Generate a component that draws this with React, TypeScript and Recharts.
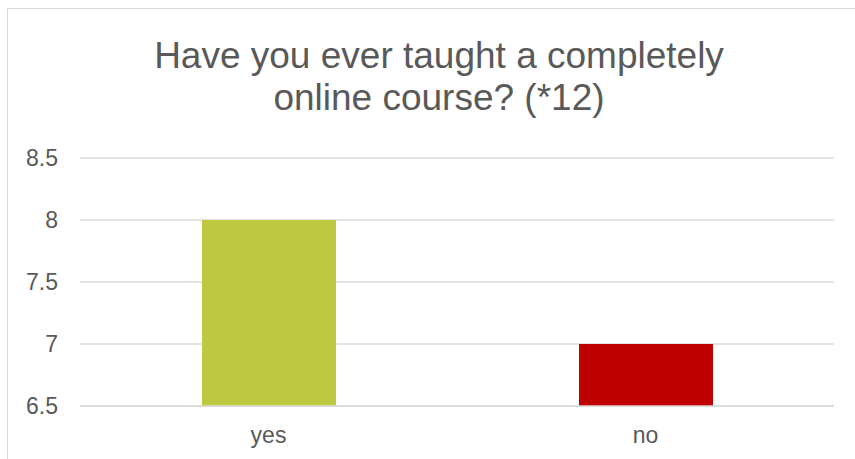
import React from "react";
import { BarChart, Bar, XAxis, YAxis, CartesianGrid, Cell } from "recharts";

const categories = ["yes", "no"];
const counts = [8, 7];
const barColors = ["#BFC841", "#C00000"];
const yTicks = [6.5, 7, 7.5, 8, 8.5];
const titleLines = ["Have you ever taught a completely", "online course? (*12)"];

const data = categories.map((c, i) => ({ name: c, value: counts[i] }));

const FONT = "'Liberation Sans', Arial, sans-serif";
const TEXT = "#595959";
const GRID = "#D9D9D9";

export default function App() {
  return (
    <div
      style={{
        position: "absolute",
        left: 7,
        top: 8,
        width: 848,
        height: 451,
        borderLeft: `1px solid ${GRID}`,
        borderTop: `1px solid ${GRID}`,
        background: "#fff",
        overflow: "hidden",
        fontFamily: FONT,
      }}
    >
      <div
        style={{
          position: "absolute",
          left: 131,
          top: 26,
          width: 600,
          textAlign: "center",
          fontSize: 37,
          lineHeight: "42px",
          color: TEXT,
          fontFamily: FONT,
        }}
      >
        {titleLines.map((l) => (
          <div key={l}>{l}</div>
        ))}
      </div>
      <BarChart
        width={847}
        height={450}
        data={data}
        margin={{ top: 149, right: 21, bottom: 13, left: 0 }}
      >
        <CartesianGrid vertical={false} stroke={GRID} strokeWidth={1.3} />
        <XAxis
          dataKey="name"
          axisLine={{ stroke: GRID, strokeWidth: 1.3 }}
          tickLine={false}
          tickSize={0}
          tickMargin={21}
          height={40}
          tick={{ fill: TEXT, fontSize: 23, fontFamily: FONT }}
        />
        <YAxis
          type="number"
          domain={[6.5, 8.5]}
          ticks={yTicks}
          width={72}
          axisLine={false}
          tickLine={false}
          tickSize={0}
          tickMargin={22}
          interval={0}
          tick={{ fill: TEXT, fontSize: 23, fontFamily: FONT }}
        />
        <Bar dataKey="value" barSize={134} isAnimationActive={false}>
          {data.map((d, i) => (
            <Cell key={d.name} fill={barColors[i]} />
          ))}
        </Bar>
      </BarChart>
    </div>
  );
}
